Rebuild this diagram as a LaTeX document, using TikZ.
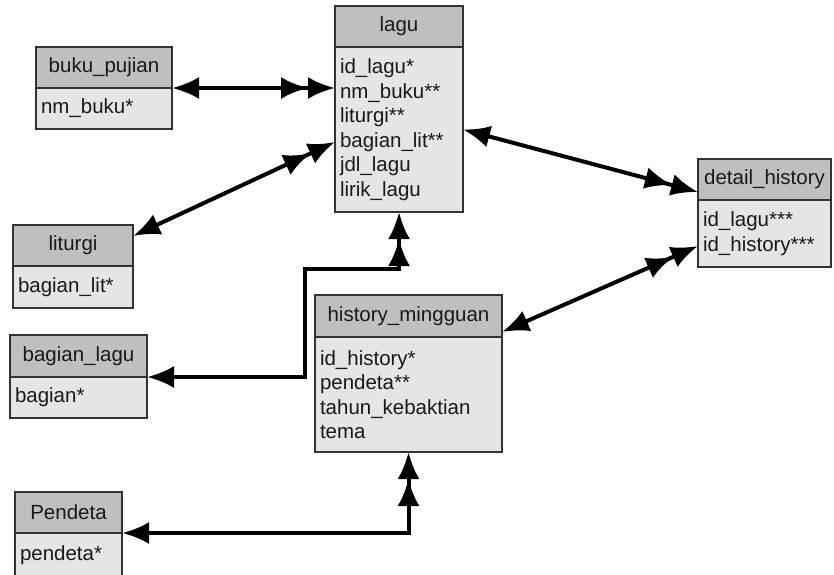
\documentclass[tikz,border=0pt]{standalone}
\usepackage{fontspec}
\setmainfont{Liberation Sans}
\usetikzlibrary{positioning}
\usetikzlibrary{arrows.meta}

\begin{document}
\begin{tikzpicture}[
    x=1pt, y=-1pt,
    hdr/.style={
        rectangle,
        draw=black!80,
        line width=1.2pt,
        fill=black!25,
        minimum height=41pt,
        inner sep=0pt,
        outer sep=0pt,
        text=black!90,
        font=\fontsize{20.5}{24.5}\selectfont
    },
    fld/.style={
        hdr,
        fill=black!10,
        align=left,
        inner xsep=5pt,
        inner ysep=0pt
    },
    rel/.style={
        {Latex[length=27pt,width=22pt]}-{Latex[length=27pt,width=22pt]Latex[length=27pt,width=22pt]},
        line width=4pt
    }
]
\useasboundingbox (0,0) rectangle (834,574);
\clip (0,0) rectangle (834,574);

\node [hdr, minimum width=128pt] (laguH) at (399,26.5) {lagu};
\node [fld, text width=118pt, minimum height=165pt, below=0pt of laguH] (laguB) {id\_lagu*\\nm\_buku**\\liturgi**\\bagian\_lit**\\jdl\_lagu\\lirik\_lagu};

\node [hdr, minimum width=136pt] (bukuH) at (104,67.5) {buku\_pujian};
\node [fld, text width=126pt, below=0pt of bukuH] (bukuB) {nm\_buku*};

\node [hdr, minimum width=120pt] (litH) at (73,245.5) {liturgi};
\node [fld, text width=110pt, minimum height=42pt, below=0pt of litH] (litB) {bagian\_lit*};

\node [hdr, minimum width=137pt, minimum height=42pt] (balH) at (78.5,356) {bagian\_lagu};
\node [fld, text width=127pt, below=0pt of balH] (balB) {bagian*};

\node [hdr, minimum width=107pt] (pdtH) at (68.5,512.5) {Pendeta};
\node [fld, text width=97pt, minimum height=44pt, below=0pt of pdtH] (pdtB) {pendeta*};

\node [hdr, minimum width=133pt] (detH) at (764.5,179.5) {detail\_history};
\node [fld, text width=123pt, minimum height=67pt, below=0pt of detH] (detB) {id\_lagu***\\id\_history***};

\node [hdr, minimum width=187pt, minimum height=42pt] (hmH) at (408.5,316) {history\_mingguan};
\node [fld, text width=177pt, minimum height=115pt, below=0pt of hmH] (hmB) {id\_history*\\pendeta**\\tahun\_kebaktian\\tema};

\coordinate (j1) at (305,269);

\draw[rel] (bukuH.south east) -- (bukuH.south east -| laguB.west);
\draw[rel] ([yshift=-11pt]litH.north east) -- ([yshift=-12.5pt]laguB.west);
\draw[rel] (laguB.east) -- ([yshift=8pt]detH.south west);
\draw[rel] ([yshift=5pt]hmH.south east) -- ([yshift=-12.5pt]detB.west);
\draw[rel] (balH.south east) -| (j1) -| (laguB.south);
\draw[rel] (pdtH.south east) -| (hmB.south);
\end{tikzpicture}
\end{document}
